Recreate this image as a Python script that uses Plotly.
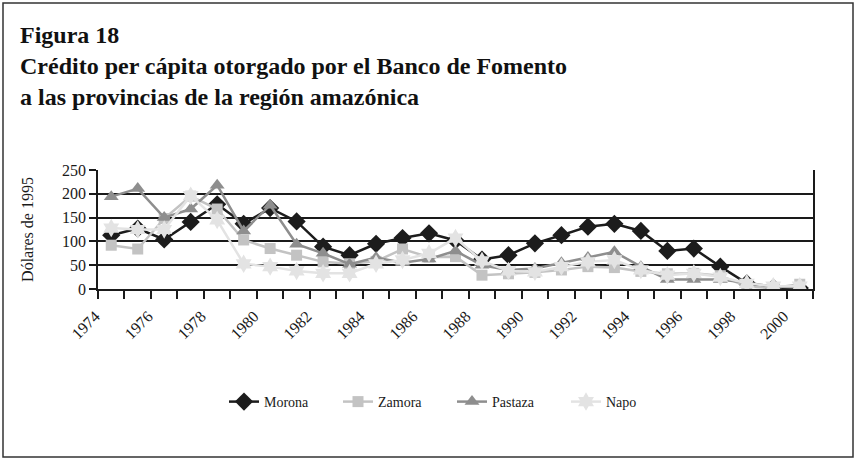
import plotly.graph_objects as go

years = list(range(1974, 2001))
morona = [113, 127, 104, 141, 178, 137, 170, 142, 89, 71, 95, 107, 117, 102, 62, 71, 96, 113, 131, 137, 122, 80, 85, 47, 12, 3, 2]
zamora = [92, 84, 148, 195, 168, 103, 85, 71, 57, 53, 58, 84, 67, 68, 29, 32, 35, 40, 47, 45, 37, 32, 33, 28, 5, 2, 10]
pastaza = [194, 211, 150, 168, 218, 122, 176, 94, 75, 52, 66, 55, 63, 80, 50, 40, 43, 55, 66, 78, 47, 20, 20, 20, 13, 5, 3]
napo = [128, 125, 125, 196, 145, 53, 47, 38, 33, 33, 53, 61, 75, 107, 59, 38, 36, 47, 57, 61, 40, 29, 33, 25, 12, 6, 6]
tick_years = list(range(1974, 2001, 2))
tick_labels = [str(y) for y in tick_years]
y_ticks = [0, 50, 100, 150, 200, 250]

FONT = "Liberation Serif"

fig = go.Figure()
series = [
    ("Morona", morona, "#1c1c1c", "diamond", 14),
    ("Zamora", zamora, "#c3c3c3", "square", 11),
    ("Pastaza", pastaza, "#8e8e8e", "triangle-up", 13),
    ("Napo", napo, "#e3e3e3", "hexagram", 14),
]
for name, vals, col, sym, sz in series:
    fig.add_trace(go.Scatter(
        x=years, y=vals, name=name, mode="lines+markers",
        line=dict(color=col, width=2.5),
        marker=dict(symbol=sym, size=sz, color=col, line=dict(width=0)),
    ))

fig.update_layout(
    width=856, height=460,
    margin=dict(l=98, r=43, t=170, b=171),
    paper_bgcolor="white", plot_bgcolor="white",
    font=dict(family=FONT, color="#1a1a1a"),
    title=dict(
        text="<b>Figura 18<br>Crédito per cápita otorgado por el Banco de Fomento<br>a las provincias de la región amazónica</b>",
        x=20 / 856, xanchor="left", xref="container",
        y=1 - 43 / 460, yanchor="top", yref="container",
        font=dict(family=FONT, size=24, color="#111111"),
    ),
    showlegend=True,
    legend=dict(
        orientation="h", xref="container", yref="container",
        x=224 / 856, xanchor="left", y=1 - 402 / 460, yanchor="middle",
        font=dict(family=FONT, size=14, color="#1a1a1a"),
        itemwidth=30, traceorder="normal",
        entrywidth=69, entrywidthmode="pixels",
    ),
    xaxis=dict(
        range=[1973.5, 2000.5], tickmode="array",
        tickvals=tick_years, ticktext=tick_labels,
        tickangle=-45, ticks="", showgrid=False, zeroline=False,
        showline=True, linecolor="#1a1a1a", linewidth=1.5,
        tickfont=dict(family=FONT, size=16, color="#1a1a1a"),
        ticklabelstandoff=10, ticklabelshift=-16,
        minor=dict(tickmode="linear", tick0=1973.5, dtick=1, ticks="outside",
                   ticklen=8, tickcolor="#1a1a1a", tickwidth=1.5, showgrid=False),
    ),
    yaxis=dict(
        range=[0, 250], tickmode="array", tickvals=y_ticks,
        ticks="outside", ticklen=7, tickcolor="#1a1a1a", tickwidth=1.5,
        showgrid=True, gridcolor="#1a1a1a", gridwidth=1.5, zeroline=False,
        showline=True, linecolor="#1a1a1a", linewidth=1.5, mirror=True,
        tickfont=dict(family=FONT, size=16, color="#1a1a1a"),
        title=dict(text="Dólares de 1995", font=dict(family=FONT, size=16, color="#1a1a1a"), standoff=24),
    ),
)

# outer frame of the figure
fig.add_shape(type="rect", xref="paper", yref="paper",
              x0=(3 - 98) / 715, x1=(853 - 98) / 715,
              y0=(289 - 457) / 119, y1=(289 - 3) / 119,
              line=dict(color="#333333", width=1.5), fillcolor="rgba(0,0,0,0)", layer="below")

fig.write_html("out.html", config={"displayModeBar": False},
               post_script="document.body.style.margin='0px';")
